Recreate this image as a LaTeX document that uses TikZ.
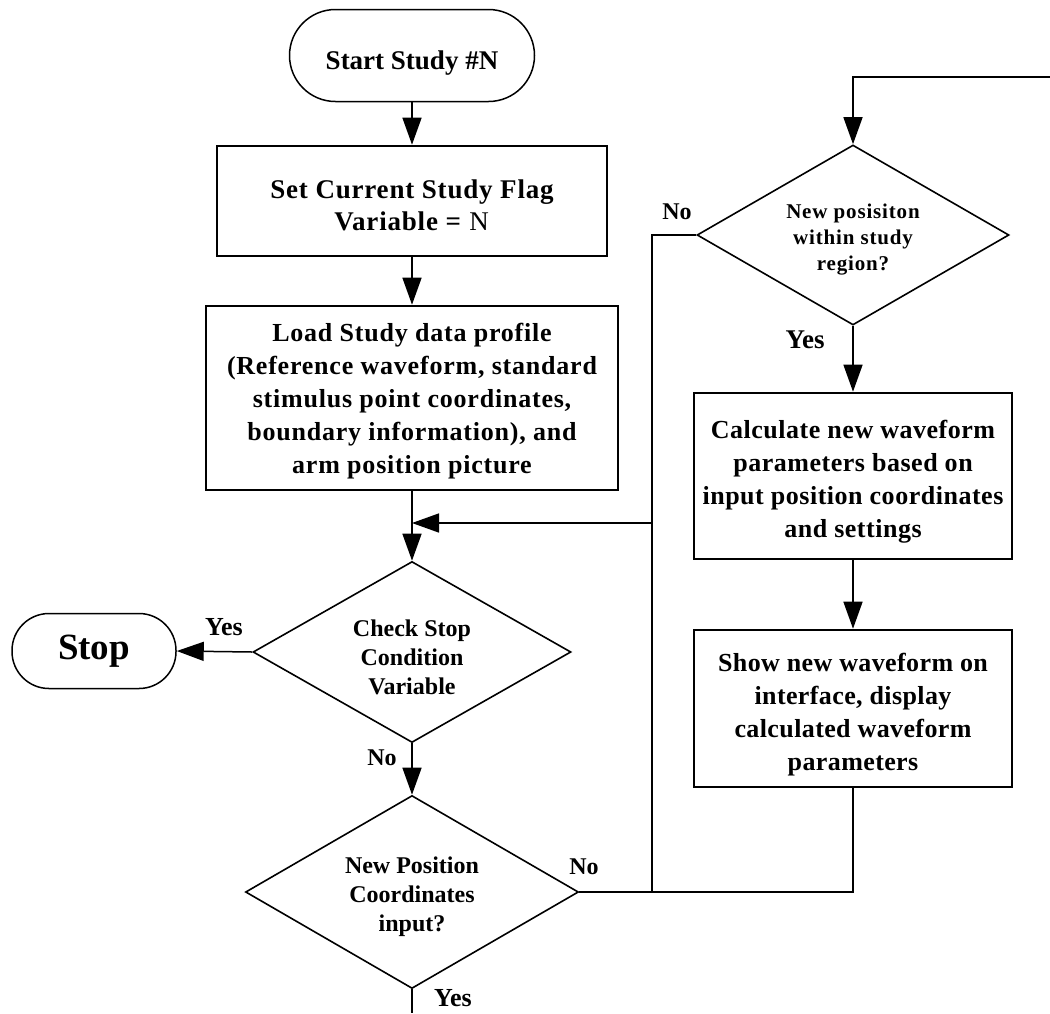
\documentclass[tikz,border=0pt]{standalone}
\usepackage{fontspec}
\setmainfont{Liberation Serif}
\usetikzlibrary{shapes.geometric,arrows.meta}

% invisible strut that makes the first text line taller,
% so the text block sits a little below the shape centre
\newcommand{\toproom}[1]{\rule{0pt}{#1}}

\tikzset{
  flowline/.style={line width=1.5pt, draw=black},
  arrowline/.style={flowline, -{Triangle[length=27pt,width=19pt]}},
  procbox/.style={draw, line width=2.6pt, rectangle, inner sep=0pt, align=center,
    font=\bfseries\fontsize{26}{33}\selectfont},
  terminal/.style={draw, line width=1.5pt, rectangle, rounded corners=#1, inner sep=0pt, align=center},
  decision/.style={draw, line width=1.6pt, diamond, shape aspect=1.75, inner sep=0pt, align=center,
    font=\bfseries\fontsize{24}{29}\selectfont},
  lbl/.style={inner sep=0pt, font=\bfseries\fontsize{24}{24}\selectfont},
}

\begin{document}
\begin{tikzpicture}[x=1pt,y=-1pt]
\useasboundingbox (0,0) rectangle (1050,1013);

% left column
\node[terminal=46pt, minimum width=245pt, minimum height=92pt,
      font=\bfseries\fontsize{27}{32}\selectfont] (start) at (412,55.5) {\toproom{33pt}Start Study \#N};
\node[procbox, minimum width=390pt, minimum height=110pt,
      font=\bfseries\fontsize{27}{32}\selectfont\addfontfeature{LetterSpace=3}] (setflag) at (412,201)
      {\toproom{26.5pt}Set Current Study Flag\\ Variable = \textmd{N}};
\node[procbox, minimum width=412pt, minimum height=184pt,
      font=\bfseries\fontsize{26}{33}\selectfont\addfontfeature{LetterSpace=3}] (load) at (412,398)
      {\toproom{24pt}Load Study data profile\\ (Reference waveform, standard\\ stimulus point coordinates,\\
       boundary information), and\\ arm position picture};
\node[decision, minimum width=318pt, minimum height=181pt] (stopq) at (412,652)
      {\toproom{26.5pt}Check Stop\\ Condition\\ Variable};
\node[terminal=37pt, minimum width=164pt, minimum height=75pt,
      font=\bfseries\fontsize{37}{37}\selectfont] (stop) at (94,651) {Stop};
\node[decision, minimum width=333pt, minimum height=193pt] (posq) at (412,892)
      {\toproom{26.5pt}New Position\\ Coordinates\\ input?};

% right column
\node[decision, minimum width=312pt, minimum height=180pt,
      font=\bfseries\fontsize{21}{26}\selectfont\addfontfeature{LetterSpace=4}] (regq) at (853,235)
      {\toproom{24pt}New posisiton\\ within study\\ region?};
\node[procbox, minimum width=318pt, minimum height=166pt,
      font=\bfseries\fontsize{26}{33}\selectfont\addfontfeature{LetterSpace=2}] (calc) at (853,476)
      {\toproom{30pt}Calculate new waveform\\ parameters based on\\ input position coordinates\\ and settings};
\node[procbox, minimum width=318pt, minimum height=157pt,
      font=\bfseries\fontsize{26}{33}\selectfont\addfontfeature{LetterSpace=1.5}] (show) at (853,708.5)
      {\toproom{30pt}Show new waveform on\\ interface, display\\ calculated waveform\\ parameters};

% junctions and free ends
\coordinate (j1) at (652,523);
\coordinate (jb) at (652,892);
\coordinate (tr) at (1050,77);
\coordinate (exitb) at (412,1013);

% connectors
\draw[arrowline] (start) -- (setflag);
\draw[arrowline] (setflag) -- (load);
\draw[arrowline] (load) -- (stopq.north);
\draw[arrowline] (j1) -- (j1 -| load.south);
\draw[arrowline] (stopq.west) -- (stop.east);
\draw[arrowline] (stopq.south) -- (posq.north);
\draw[flowline] (posq.south) -- (exitb);
\draw[flowline] (posq.east) -- (posq.east -| show.south) -- (show.south);
\draw[flowline] (regq.west) -| (jb);
\draw[arrowline] (tr) -| (regq.north);
\draw[arrowline] (regq.south) -- (calc.north);
\draw[arrowline] (calc) -- (show);

% branch labels
\node[lbl, font=\bfseries\fontsize{26}{26}\selectfont] (yes1) at (224,627) {Yes};
\node[lbl] (no1) at (382,758) {No};
\node[lbl] (no2) at (584,867) {No};
\node[lbl, font=\bfseries\fontsize{26}{26}\selectfont] (yes2) at (453,998) {Yes};
\node[lbl] (no3) at (677,212) {No};
\node[lbl, font=\bfseries\fontsize{27}{27}\selectfont] (yes3) at (805,340) {Yes};
\end{tikzpicture}
\end{document}
